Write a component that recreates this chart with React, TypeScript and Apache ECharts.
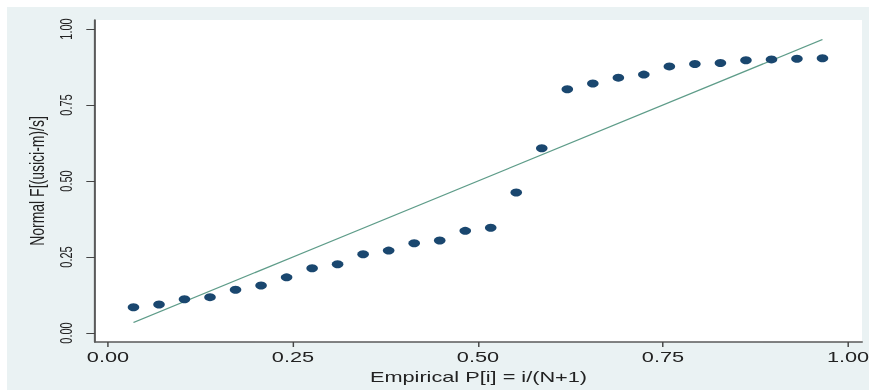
import React, { useEffect, useRef } from "react";
import * as echarts from "echarts";

// Empirical P[i] = i/(N+1), N = 28
const empiricalP = [
  0.0345, 0.069, 0.1034, 0.1379, 0.1724, 0.2069, 0.2414, 0.2759, 0.3103, 0.3448,
  0.3793, 0.4138, 0.4483, 0.4828, 0.5172, 0.5517, 0.5862, 0.6207, 0.6552, 0.6897,
  0.7241, 0.7586, 0.7931, 0.8276, 0.8621, 0.8966, 0.931, 0.9655,
];
// Normal F[(usici-m)/s]
const normalF = [
  0.085, 0.094, 0.111, 0.118, 0.142, 0.156, 0.183, 0.213, 0.226, 0.259,
  0.271, 0.295, 0.304, 0.336, 0.346, 0.462, 0.608, 0.802, 0.821, 0.84,
  0.85, 0.877, 0.885, 0.888, 0.897, 0.9, 0.902, 0.904,
];
// reference line y = x
const refX = [0.0345, 0.9655];
const refY = [0.0345, 0.9655];
const tickValues = [0, 0.25, 0.5, 0.75, 1];

const xTitle = "Empirical P[i] = i/(N+1)";
const yTitle = "Normal F[(usici-m)/s]";

const NATURAL_W = 604;
const REAL_W = 875;
const H = 391;
const SX = REAL_W / NATURAL_W;

export default function App() {
  const ref = useRef<HTMLDivElement>(null);
  useEffect(() => {
    if (!ref.current) return;
    const chart = echarts.init(ref.current, null, { renderer: "svg" });
    const font = "'Liberation Sans', Arial, Helvetica, sans-serif";
    chart.setOption({
      animation: false,
      backgroundColor: "transparent",
      graphic: [
        {
          type: "rect",
          z: -10,
          silent: true,
          shape: { x: 7 / SX, y: 7, width: 862 / SX, height: 383 },
          style: { fill: "#eaf2f3" },
        },
      ],
      grid: {
        left: 95 / SX,
        right: NATURAL_W - 862 / SX,
        top: 20,
        bottom: H - 342,
        show: true,
        backgroundColor: "#ffffff",
        borderWidth: 0,
      },
      xAxis: {
        type: "value",
        min: -0.0175,
        max: 1.0189,
        name: xTitle,
        nameLocation: "middle",
        nameGap: 21,
        nameTextStyle: { fontFamily: font, fontSize: 15, color: "#222" },
        axisLine: { show: true, onZero: false, lineStyle: { color: "#5a5a5a", width: 1.5 } },
        axisTick: { show: true, length: 5, customValues: tickValues, lineStyle: { color: "#444", width: 1 } },
        axisLabel: {
          show: true,
          customValues: tickValues,
          formatter: (v: number) => v.toFixed(2),
          fontFamily: font,
          fontSize: 15,
          color: "#222",
          margin: 7,
        },
        splitLine: { show: false },
      },
      yAxis: {
        type: "value",
        min: -0.0296,
        max: 1.0296,
        name: yTitle,
        nameLocation: "middle",
        nameGap: 28,
        nameTextStyle: { fontFamily: font, fontSize: 14, color: "#222" },
        axisLine: { show: true, onZero: false, lineStyle: { color: "#5a5a5a", width: 1.4 } },
        axisTick: { show: true, length: 6, customValues: tickValues, lineStyle: { color: "#444", width: 1 } },
        axisLabel: {
          show: true,
          customValues: tickValues,
          formatter: (v: number) => v.toFixed(2),
          rotate: 90,
          fontFamily: font,
          fontSize: 11,
          color: "#222",
          margin: 14,
        },
        splitLine: { show: false },
      },
      series: [
        {
          type: "line",
          data: refX.map((x, i) => [x, refY[i]]),
          symbol: "none",
          lineStyle: { color: "#5e9c89", width: 1.1 },
          z: 2,
        },
        {
          type: "scatter",
          data: empiricalP.map((x, i) => [x, normalF[i]]),
          symbol: "circle",
          symbolSize: 8,
          itemStyle: { color: "#1a476f", opacity: 1 },
          z: 3,
        },
      ],
    });
    return () => chart.dispose();
  }, []);
  return (
    <div style={{ position: "fixed", left: 0, top: 0, width: REAL_W, height: H, overflow: "hidden" }}>
      <div
        ref={ref}
        style={{
          width: NATURAL_W,
          height: H,
          transform: `scaleX(${SX})`,
          transformOrigin: "0 0",
        }}
      />
    </div>
  );
}
